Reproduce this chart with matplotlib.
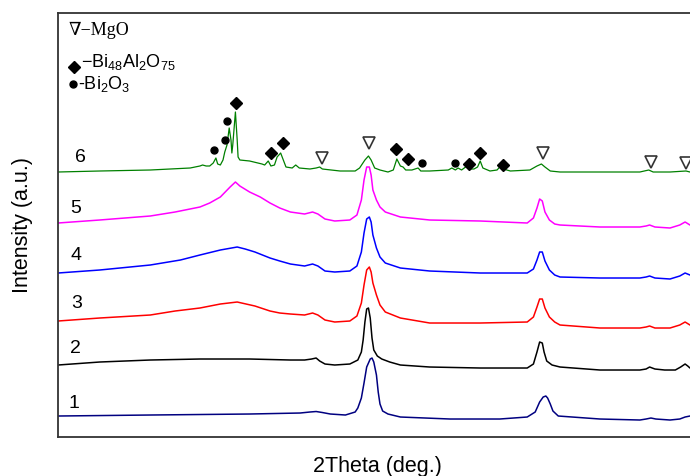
import matplotlib
matplotlib.use("Agg")
import matplotlib.pyplot as plt

# 2theta (deg) / intensity (a.u.), curves already offset
x1 = [8.0, 18.4, 29.6, 35.3, 36.4, 37.1, 37.8, 38.7, 40.4, 41.5, 41.8, 42.2, 42.5, 42.8, 43.2, 43.4,
      43.6, 43.9, 44.1, 44.3, 44.6, 45.2, 46.6, 52.2, 57.8, 60.9, 61.8, 62.3, 62.7, 63.0, 63.2, 63.5,
      63.8, 64.4, 69.1, 73.6, 74.3, 74.85, 75.4, 77.0, 78.1, 78.7, 79.25, 80.0]
y1 = [21, 22, 23, 24, 25, 25.5, 24.5, 23, 22, 25, 29, 39, 54, 70, 78, 79,
      75, 62, 45, 33, 26, 23, 20, 18, 18, 20, 25, 35, 40, 41, 39, 33,
      26, 21, 18, 17, 18, 19, 18, 17, 18, 20, 21, 21]

x2 = [8.0, 12.7, 18.4, 24.0, 29.6, 34.2, 35.8, 36.6, 37.1, 37.5, 38.1, 39.2, 40.9, 41.8, 42.2, 42.4,
      42.6, 42.8, 43.0, 43.2, 43.4, 43.6, 44.0, 44.5, 45.4, 46.6, 49.9, 55.6, 60.9, 61.6, 62.0, 62.3,
      62.6, 62.8, 63.1, 63.7, 64.6, 69.1, 73.6, 74.3, 74.7, 75.3, 76.4, 77.6, 78.2, 78.7, 79.0, 79.25, 80.0]
y2 = [72, 75, 77, 78, 78, 77, 77, 78, 79, 76, 73, 72, 73, 77, 85, 97,
      115, 128, 129, 119, 99, 87, 81, 78, 75, 72, 70, 69, 69, 73, 85, 95,
      94, 85, 76, 72, 70, 67, 67, 68, 70, 68, 67, 67, 70, 73, 71, 69, 68]

x3 = [8.0, 12.7, 18.4, 21.2, 24.0, 26.3, 28.2, 30.2, 31.9, 33.0, 34.2, 35.8, 36.7, 37.3, 38.1, 39.2,
      40.9, 41.7, 42.2, 42.5, 42.8, 43.1, 43.3, 43.5, 43.9, 44.3, 44.9, 46.6, 49.9, 55.6, 60.9, 61.6,
      62.0, 62.3, 62.6, 62.9, 63.4, 64.0, 64.6, 69.1, 73.6, 74.3, 74.7, 75.3, 77.0, 78.1, 78.7, 79.25, 80.0]
y3 = [116, 119, 122, 126, 129, 133, 135, 131, 126, 124, 123, 122, 124, 122, 117, 115,
      116, 121, 134, 152, 167, 170, 165, 154, 142, 132, 125, 119, 114, 114, 115, 120,
      130, 138, 138, 129, 120, 115, 112, 109, 109, 110, 111, 109, 109, 112, 115, 112, 111]

x4 = [8.0, 12.7, 18.4, 21.8, 24.0, 26.3, 28.2, 29.1, 30.2, 31.9, 33.0, 34.2, 35.8, 36.7, 37.3, 38.1,
      39.2, 40.9, 41.7, 42.2, 42.5, 42.8, 43.1, 43.3, 43.5, 43.9, 44.3, 44.9, 46.6, 49.9, 55.6, 60.9,
      61.6, 62.0, 62.3, 62.6, 62.9, 63.4, 64.0, 64.6, 69.1, 73.6, 74.3, 74.7, 75.3, 77.0, 78.1, 78.7,
      79.25, 80.0]
y4 = [164, 167, 172, 177, 182, 187, 190, 188, 185, 179, 176, 173, 171, 173, 171, 166,
      165, 166, 171, 185, 204, 218, 220, 215, 202, 189, 180, 174, 169, 166, 164, 164,
      168, 177, 185, 185, 176, 167, 162, 160, 159, 159, 160, 161, 159, 158, 161, 164,
      162, 161]

x5 = [8.0, 12.7, 18.4, 21.2, 24.0, 25.1, 26.3, 27.4, 28.0, 28.5, 29.6, 30.8, 31.9, 33.0, 34.2, 35.8,
      36.7, 37.3, 38.1, 39.2, 40.9, 41.7, 42.2, 42.5, 42.8, 43.1, 43.3, 43.5, 43.9, 44.3, 44.9, 46.6,
      49.9, 55.6, 60.9, 61.6, 62.0, 62.3, 62.6, 62.9, 63.4, 64.0, 64.6, 69.1, 73.6, 74.3, 74.7, 75.3,
      77.0, 78.1, 78.7, 79.25, 80.0]
y5 = [214, 217, 221, 225, 230, 234, 240, 250, 255, 251, 245, 240, 234, 229, 225, 223,
      225, 223, 218, 216, 217, 222, 237, 257, 270, 270, 262, 247, 237, 230, 225, 220,
      217, 216, 214, 219, 229, 238, 236, 225, 217, 213, 212, 210, 210, 211, 212, 210,
      209, 212, 215, 212, 210]

x6 = [8.0, 12.7, 18.4, 22.9, 24.0, 24.3, 24.7, 25.1, 25.5, 25.8, 26.0, 26.3, 26.6, 26.8, 27.05, 27.3,
      27.5, 27.6, 27.7, 28.0, 28.2, 28.3, 28.5, 29.6, 31.0, 31.3, 31.7, 32.0, 32.4, 32.7, 32.9, 33.1,
      33.4, 33.7, 34.4, 34.8, 35.2, 36.4, 37.1, 37.5, 37.8, 39.8, 41.5, 42.0, 42.6, 43.0, 43.3, 43.7,
      44.3, 45.2, 45.8, 46.2, 46.6, 46.9, 47.2, 47.9, 48.6, 48.9, 49.9, 52.0, 52.4, 52.8, 53.1, 53.5,
      54.1, 54.4, 54.9, 55.3, 55.6, 55.9, 56.7, 57.5, 57.8, 58.2, 59.0, 61.2, 62.0, 62.5, 62.9, 63.5,
      64.6, 69.1, 73.6, 74.6, 75.1, 77.0, 78.8, 79.25, 80.0]
y6 = [265, 266, 267, 269, 271, 272, 271, 271, 274, 279, 273, 272, 277, 285, 292, 309,
      297, 284, 292, 325, 297, 280, 277, 276, 273, 272, 276, 271, 272, 280, 282, 284,
      277, 270, 269, 272, 269, 268, 269, 270, 268, 266, 266, 269, 277, 281, 277, 269,
      267, 265, 267, 278, 271, 270, 267, 267, 269, 266, 266, 267, 269, 267, 269, 267,
      271, 268, 268, 270, 276, 269, 266, 267, 270, 268, 266, 267, 271, 273, 270, 266,
      265, 265, 265, 267, 265, 265, 266, 265, 265]

# phase markers
mgo_x = [37.8, 43.1, 62.7, 74.85, 78.8]
mgo_y = [279, 294, 284, 275, 274]
bial_x = [28.1, 32.0, 33.4, 46.1, 47.5, 54.3, 55.6, 58.2]
bial_y = [334, 284, 294, 288, 278, 273, 284, 272]
bi2o3_x = [25.6, 26.8, 27.05, 49.0, 52.8]
bi2o3_y = [287, 297, 316, 274, 274]

labels = ["1", "2", "3", "4", "5", "6"]
label_x = [9.8, 10.0, 10.1, 10.0, 10.0, 10.5]
label_y = [34, 89, 134, 182, 229, 280]

plt.rcParams["font.family"] = ["Liberation Sans", "DejaVu Sans"]
plt.rcParams["mathtext.fontset"] = "custom"
plt.rcParams["mathtext.rm"] = "Liberation Sans"
plt.rcParams["mathtext.it"] = "Liberation Sans:italic"
plt.rcParams["mathtext.bf"] = "Liberation Sans:bold"

fig = plt.figure(figsize=(6.9, 4.76), dpi=100)
ax = fig.add_axes([0.0841, 0.0819, 0.9255, 0.8908])

curves = [(x1, y1, "#000080", 1.1), (x2, y2, "black", 1.1), (x3, y3, "red", 1.1),
          (x4, y4, "blue", 1.1), (x5, y5, "magenta", 1.1), (x6, y6, "green", 0.9)]
for x, y, c, lw in curves:
    ax.plot(x, y, color=c, lw=lw)

ax.plot(mgo_x, mgo_y, "v", ms=9, mfc="white", mec="#333333", mew=1.2, ls="none")
ax.plot(bial_x, bial_y, "D", ms=6, color="black", ls="none")
ax.plot(bi2o3_x, bi2o3_y, "o", ms=5, color="black", ls="none")

for t, lx, ly in zip(labels, label_x, label_y):
    ax.text(lx, ly, t, fontsize=14, ha="center", va="center")

# legend keys in the top-left corner
ax.text(0.0157, 0.948, "\u2207\u2212MgO", transform=ax.transAxes, fontsize=13,
        family=["Liberation Serif", "DejaVu Serif"], va="baseline")
ax.plot([0.025], [0.873], "D", ms=6, color="black", transform=ax.transAxes, clip_on=False)
ax.text(0.036, 0.873, "\u2212$\\mathrm{Bi_{48}Al_{2}O_{75}}$", transform=ax.transAxes,
        fontsize=13, va="baseline")
ax.plot([0.0235], [0.8325], "o", ms=5, color="black", transform=ax.transAxes, clip_on=False)
ax.text(0.031, 0.8205, "-$\\mathrm{Bi_{2}O_{3}}$", transform=ax.transAxes,
        fontsize=13, va="baseline")

ax.set_xlim(8, 80)
ax.set_ylim(0, 424)
ax.set_xticks([])
ax.set_yticks([])
for s in ["left", "bottom", "top", "right"]:
    ax.spines[s].set_color("#333333")
    ax.spines[s].set_linewidth(1.3)

ax.set_xlabel("2Theta (deg.)", fontsize=15.5, labelpad=14)
ax.set_ylabel("Intensity (a.u.)", fontsize=15.5, labelpad=18)

fig.savefig("out.png", dpi=100)
